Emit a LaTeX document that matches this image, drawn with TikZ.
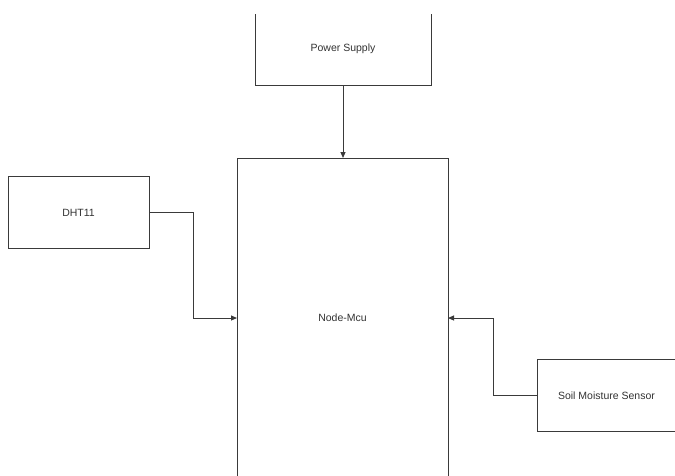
\documentclass[tikz,border=0pt]{standalone}
\usepackage{fontspec}
\setmainfont{Liberation Sans}
\usetikzlibrary{arrows.meta}
\definecolor{txt}{HTML}{333333}
\definecolor{ln}{HTML}{3A3A3A}
\tikzset{
  blk/.style={draw=ln, line width=1pt, fill=white, rectangle, inner sep=0pt, outer sep=0pt,
    font=\fontsize{10.5}{12}\selectfont, text=txt},
  arr/.style={draw=ln, line width=1pt, -{Triangle[length=6pt,width=5pt]}}
}
\begin{document}
\begin{tikzpicture}[x=1pt,y=-1pt]
\useasboundingbox (0,0) rectangle (675,475);
\fill[white] (0,0) rectangle (675,475);
\clip (0,14.5) rectangle (675,475);
\node[blk, minimum width=176pt, minimum height=72pt] (ps) at (343,49) {Power Supply};
\node[blk, minimum width=211pt, minimum height=320pt] (mcu) at (342.5,318) {Node-Mcu};
\node[blk, minimum width=141pt, minimum height=72pt] (dht) at (78.5,212.5) {DHT11};
\node[blk, minimum width=139pt, minimum height=72pt] (soil) at (606.5,395.5) {Soil Moisture Sensor};
\coordinate (b1) at (193,212.5);
\coordinate (b2) at (493,395.5);
\draw[arr] (ps.south) -- (ps.south |- mcu.north);
\draw[arr] (dht.east) -- (b1) |- (mcu.west);
\draw[arr] (soil.west) -- (b2) |- (mcu.east);
\end{tikzpicture}
\end{document}
